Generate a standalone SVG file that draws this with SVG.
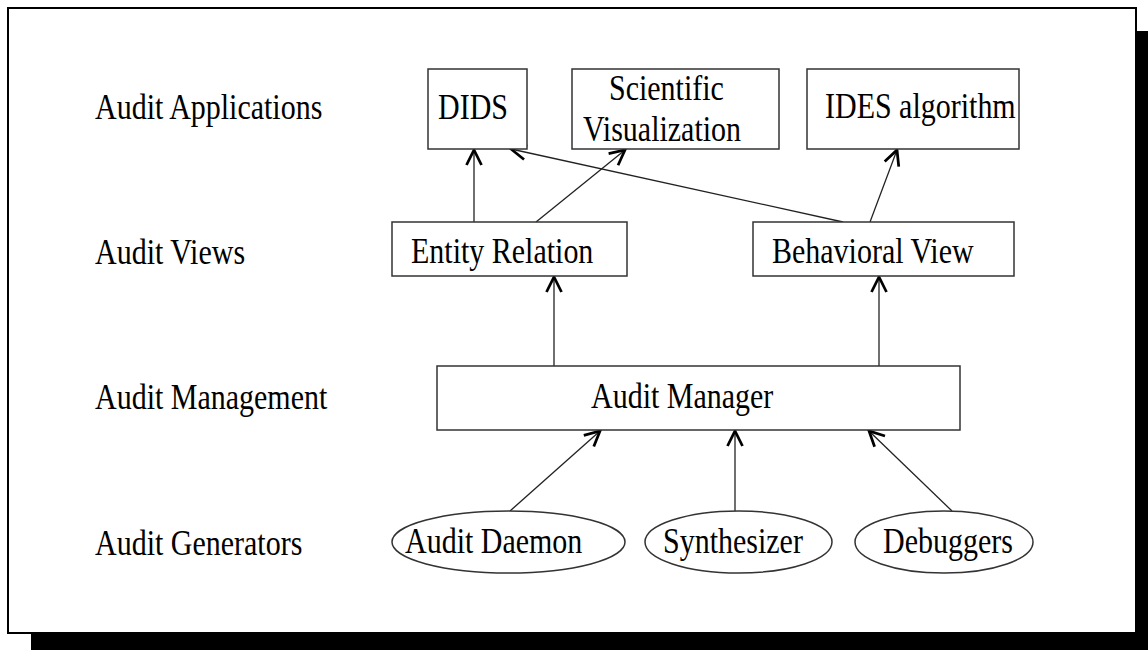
<svg xmlns="http://www.w3.org/2000/svg" width="1148" height="650" viewBox="0 0 1148 650">
  <style>
    .frame { fill: #ffffff; stroke: #000000; stroke-width: 2; }
    .shadow { fill: #000000; }
    .box { fill: #ffffff; stroke: #333333; stroke-width: 1.5; }
    .edge { fill: none; stroke: #222222; stroke-width: 1.3; }
    .t { font-family: "Liberation Serif", "Times New Roman", serif; font-size: 35px; fill: #000000; }
  </style>
  <defs>
    <marker id="arrow" markerUnits="userSpaceOnUse" markerWidth="20" markerHeight="20" viewBox="-14 -8 16 16" refX="0" refY="0" orient="auto">
      <path d="M -12 -6 L 0 0 L -12 6" fill="none" stroke="#000000" stroke-width="2.2"/>
    </marker>
  </defs>

  <!-- page with drop shadow -->
  <rect class="shadow" x="31" y="634" width="1117" height="16"/>
  <rect class="shadow" x="1136" y="31" width="12" height="619"/>
  <rect class="frame" x="8" y="8" width="1128" height="625"/>

  <!-- layer labels -->
  <g id="layer-labels">
    <text class="t" transform="translate(95,119) scale(0.857,1)">Audit Applications</text>
    <text class="t" transform="translate(95,264) scale(0.857,1)">Audit Views</text>
    <text class="t" transform="translate(95,409) scale(0.857,1)">Audit Management</text>
    <text class="t" transform="translate(95,555) scale(0.857,1)">Audit Generators</text>
  </g>

  <!-- connectors -->
  <g id="connectors">
    <line class="edge" x1="474" y1="222" x2="474" y2="150" marker-end="url(#arrow)"/>
    <line class="edge" x1="536" y1="222" x2="625" y2="150" marker-end="url(#arrow)"/>
    <line class="edge" x1="843" y1="222" x2="511" y2="149" marker-end="url(#arrow)"/>
    <line class="edge" x1="870" y1="222" x2="897" y2="150" marker-end="url(#arrow)"/>
    <line class="edge" x1="554" y1="366" x2="554" y2="277" marker-end="url(#arrow)"/>
    <line class="edge" x1="879" y1="366" x2="879" y2="277" marker-end="url(#arrow)"/>
    <line class="edge" x1="510" y1="511" x2="600" y2="431" marker-end="url(#arrow)"/>
    <line class="edge" x1="735" y1="511" x2="735" y2="431" marker-end="url(#arrow)"/>
    <line class="edge" x1="952" y1="511" x2="869" y2="431" marker-end="url(#arrow)"/>
  </g>

  <!-- applications -->
  <g id="dids">
    <rect class="box" x="428" y="69" width="99" height="80"/>
    <text class="t" transform="translate(438,119) scale(0.857,1)">DIDS</text>
  </g>
  <g id="scientific-visualization">
    <rect class="box" x="572" y="69" width="207" height="80"/>
    <text class="t" transform="translate(609,100) scale(0.857,1)">Scientific</text>
    <text class="t" transform="translate(583,141) scale(0.857,1)">Visualization</text>
  </g>
  <g id="ides-algorithm">
    <rect class="box" x="807" y="69" width="212" height="80"/>
    <text class="t" transform="translate(825,118) scale(0.857,1)">IDES algorithm</text>
  </g>

  <!-- views -->
  <g id="entity-relation">
    <rect class="box" x="392" y="222" width="235" height="54"/>
    <text class="t" transform="translate(411,263) scale(0.857,1)">Entity Relation</text>
  </g>
  <g id="behavioral-view">
    <rect class="box" x="753" y="222" width="261" height="54"/>
    <text class="t" transform="translate(772,263) scale(0.857,1)">Behavioral View</text>
  </g>

  <!-- management -->
  <g id="audit-manager">
    <rect class="box" x="437" y="366" width="523" height="64"/>
    <text class="t" transform="translate(591,408) scale(0.857,1)">Audit Manager</text>
  </g>

  <!-- generators -->
  <g id="audit-daemon">
    <ellipse class="box" cx="508.5" cy="542" rx="116.5" ry="31"/>
    <text class="t" transform="translate(405,553) scale(0.857,1)">Audit Daemon</text>
  </g>
  <g id="synthesizer">
    <ellipse class="box" cx="738.5" cy="542" rx="93.5" ry="31"/>
    <text class="t" transform="translate(663,553) scale(0.857,1)">Synthesizer</text>
  </g>
  <g id="debuggers">
    <ellipse class="box" cx="944" cy="542" rx="89" ry="31"/>
    <text class="t" transform="translate(883,553) scale(0.857,1)">Debuggers</text>
  </g>
</svg>
